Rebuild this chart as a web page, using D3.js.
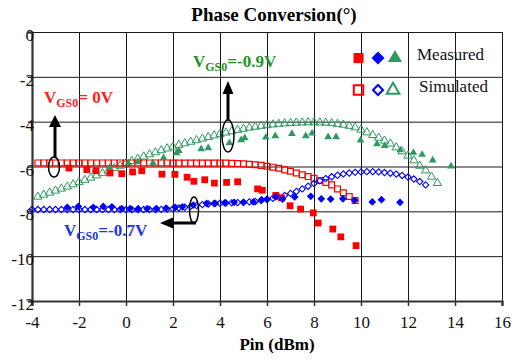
<!DOCTYPE html>
<html>
<head>
<meta charset="utf-8">
<style>
    body { margin: 0; background: #fff; }
</style>
</head>
<body>
<svg width="528" height="360"></svg>
<script src="https://d3js.org/d3.v7.min.js"></script>
<script>
    // ---- data ----
    var xTicks = [-4, -2, 0, 2, 4, 6, 8, 10, 12, 14, 16];
    var yTicks = [0, -2, -4, -6, -8, -10, -12];

    // simulated sweep (Pin, dBm)
    var pinSim = [-4, -3.75, -3.5, -3.25, -3, -2.75, -2.5, -2.25, -2, -1.75, -1.5, -1.25, -1, -0.75, -0.5, -0.25,
        0, 0.25, 0.5, 0.75, 1, 1.25, 1.5, 1.75, 2, 2.25, 2.5, 2.75, 3, 3.25, 3.5, 3.75, 4, 4.25, 4.5, 4.75,
        5, 5.25, 5.5, 5.75, 6, 6.25, 6.5, 6.75, 7, 7.25, 7.5, 7.75, 8, 8.25, 8.5, 8.75, 9, 9.25, 9.5, 9.75,
        10, 10.25, 10.5, 10.75, 11, 11.25, 11.5, 11.75, 12, 12.25, 12.5, 12.75, 13, 13.25];

    // VGS0 = 0V (red)
    var simRed = [null, -5.84, -5.84, -5.84, -5.84, -5.84, -5.84, -5.84, -5.84, -5.84, -5.84,
        -5.84, -5.84, -5.84, -5.84, -5.84, -5.84, -5.84, -5.84, -5.84, -5.84,
        -5.84, -5.84, -5.84, -5.85, -5.85, -5.85, -5.85, -5.85, -5.85, -5.85,
        -5.85, -5.85, -5.85, -5.86,
        -5.87, -5.88, -5.9, -5.92, -5.95, -5.99, -6.03, -6.08, -6.15, -6.21,
        -6.29, -6.37, -6.45, -6.53, -6.62, -6.71, -6.82, -7.0, -7.17, -7.34, -7.52,
        null, null, null, null, null, null, null, null, null, null, null, null, null, null];

    // VGS0 = -0.7V (blue)
    var simBlue = [-7.92, -7.92, -7.92, -7.92, -7.92, -7.92, -7.92, -7.92, -7.92, -7.92,
        -7.92, -7.92, -7.92, -7.92, -7.92, -7.92, -7.92, -7.92, -7.92, -7.92,
        -7.92, -7.92, -7.91,
        -7.9, -7.88, -7.85, -7.82, -7.78, -7.74, -7.7, -7.67, -7.65, -7.64,
        -7.63, -7.62, -7.61, -7.6, -7.58, -7.56, -7.52, -7.47, -7.42, -7.36,
        -7.29, -7.2, -7.11, -7.0, -6.88, -6.76, -6.64, -6.54, -6.46, -6.39,
        -6.33, -6.29, -6.26, -6.24, -6.23, -6.23, -6.24, -6.27, -6.3, -6.34,
        -6.4, -6.47, -6.56, -6.67, -6.82,
        null, null];

    // VGS0 = -0.9V (green)
    var simGreen = [null,
        -7.35, -7.26, -7.17, -7.08, -6.99, -6.9, -6.8, -6.7, -6.6, -6.5,
        -6.4, -6.3, -6.19, -6.08, -5.97, -5.86, -5.76, -5.66, -5.56, -5.46,
        -5.37, -5.28, -5.2, -5.12, -5.04, -4.97, -4.9, -4.83, -4.76, -4.69,
        -4.62, -4.55, -4.49, -4.43, -4.37, -4.32, -4.27, -4.23, -4.19, -4.16,
        -4.13, -4.1, -4.08, -4.06, -4.05, -4.04, -4.03, -4.03, -4.04, -4.05,
        -4.07, -4.1, -4.14, -4.19, -4.26, -4.36, -4.48, -4.6, -4.72, -4.85,
        -4.98, -5.15, -5.33, -5.52, -5.73, -5.97, -6.18, -6.46, -6.74];

    // measured points
    var measRedPin = [-2.43, -1.67, -1.28, -0.68, -0.18, 0.28, 0.67, 1.53, 2.08, 2.6, 2.89, 3.35, 3.76,
        4.28, 4.75, 5.6, 5.8, 6.37, 6.62, 6.98, 7.43, 7.97, 8.18, 8.8, 9.14, 9.79];
    var measRed = [-6.07, -6.14, -6.19, -6.29, -6.32, -6.24, -6.19, -6.34, -6.35, -6.48, -6.66, -6.59, -6.74,
        -6.71, -6.68, -7.0, -7.06, -7.29, -7.4, -7.75, -7.9, -8.07, -8.52, -8.79, -9.14, -9.53];

    var measBluePin = [-2.5, -2.03, -1.39, -0.97, -0.6, -0.18, 0.17, 0.52, 0.9, 1.3, 1.7, 2.1, 2.4, 2.86,
        3.43, 3.8, 4.2, 4.6, 5.0, 5.42, 5.77, 6.0, 6.37, 6.66, 7.18, 7.86, 8.31, 8.71, 9.23, 9.73, 10.48, 10.87, 11.66];
    var measBlue = [-7.82, -7.78, -7.82, -7.78, -7.8, -7.88, -7.88, -7.88, -7.88, -7.88, -7.86, -7.82, -7.8, -7.72,
        -7.65, -7.64, -7.62, -7.6, -7.6, -7.58, -7.48, -7.46, -7.36, -7.45, -7.36, -7.33, -7.44, -7.45, -7.44, -7.51, -7.58, -7.48, -7.6];

    var measGreenPin = [-1.3, -0.7, 0.1, 0.5, 1.15, 1.6, 2.15, 2.25, 3.2, 3.5, 4.4, 4.9, 5.05, 5.95, 6.35,
        7.06, 7.65, 7.92, 8.6, 8.94, 9.98, 10.68, 11.01, 11.67, 12.23, 12.6, 13.05, 13.83];
    var measGreen = [-6.15, -6.05, -5.85, -5.8, -5.85, -5.62, -5.4, -5.3, -5.22, -5.17, -4.95, -4.82, -4.73, -4.7, -4.64,
        -4.54, -4.64, -4.52, -4.68, -4.68, -4.83, -5.0, -5.07, -5.27, -5.38, -5.47, -5.72, -5.99];

    var red = "#ff0000", blue = "#0000ff", green = "#2e9960";
    var serif = "Liberation Serif, Times New Roman, serif";

    // ---- layout ----
    var svg = d3.select("svg").attr("font-family", serif),
        margin = {top: 32, right: 26, bottom: 59, left: 32},
        plotW = +svg.attr("width") - margin.left - margin.right,
        plotH = +svg.attr("height") - margin.top - margin.bottom,
        g = svg.append("g").attr("transform", "translate(" + margin.left + "," + margin.top + ")");

    var x = d3.scaleLinear().domain([-4, 16]).range([0, plotW]);
    var y = d3.scaleLinear().domain([-12, 0]).range([plotH, 0]);

    // grid = long inner ticks of the axes themselves
    var xGrid = g.append("g")
        .attr("transform", "translate(0," + plotH + ")")
        .call(d3.axisBottom(x).tickValues(xTicks).tickSizeInner(-plotH).tickSizeOuter(0).tickFormat(function () { return ""; }));
    var yGrid = g.append("g")
        .call(d3.axisLeft(y).tickValues(yTicks).tickSizeInner(-plotW).tickSizeOuter(0).tickFormat(function () { return ""; }));
    [xGrid, yGrid].forEach(function (a) {
        a.selectAll(".tick line").attr("stroke", "#1a1a1a").attr("stroke-width", 1);
        a.select(".domain").attr("stroke", "#1a1a1a");
    });

    // outer axes with labels
    var xAxis = g.append("g")
        .attr("transform", "translate(0," + plotH + ")")
        .call(d3.axisBottom(x).tickValues(xTicks).tickSize(5).tickPadding(10).tickFormat(function (d) { return String(d); }));
    var yAxis = g.append("g")
        .call(d3.axisLeft(y).tickValues(yTicks).tickSize(4).tickPadding(-6).tickFormat(function (d) { return String(d); }));
    [xAxis, yAxis].forEach(function (a) {
        a.attr("font-family", serif).attr("font-size", 17);
        a.select(".domain").attr("stroke", "#333").attr("stroke-width", 2.2);
        a.selectAll(".tick line").attr("stroke", "#333").attr("stroke-width", 1.5);
        a.selectAll("text").attr("fill", "#111").attr("font-family", serif);
    });
    yAxis.selectAll("text").attr("dy", "0.5em");

    // symbols
    function mark(type, size, rot) {
        var p = d3.symbol().type(type).size(size)();
        return {path: p, rot: rot || 0};
    }

    function drawSeries(pins, vals, sym, color, filled, sw) {
        var pts = pins.map(function (p, i) { return [p, vals[i]]; })
            .filter(function (d) { return d[1] !== null; });
        g.append("g").selectAll("path")
            .data(pts)
            .enter().append("path")
            .attr("d", sym.path)
            .attr("transform", function (d) {
                return "translate(" + x(d[0]) + "," + y(d[1]) + ") rotate(" + sym.rot + ")";
            })
            .attr("fill", filled ? color : "none")
            .attr("stroke", filled ? "none" : color)
            .attr("stroke-width", sw || 1.1);
    }

    drawSeries(pinSim, simGreen, mark(d3.symbolTriangle, 30), green, false, 1);
    drawSeries(pinSim, simRed, mark(d3.symbolSquare, 34), red, false, 1.2);
    drawSeries(pinSim, simBlue, mark(d3.symbolSquare, 20, 45), blue, false, 1.1);
    drawSeries(measGreenPin, measGreen, mark(d3.symbolTriangle, 26), green, true);
    drawSeries(measRedPin, measRed, mark(d3.symbolSquare, 46), red, true);
    drawSeries(measBluePin, measBlue, mark(d3.symbolSquare, 30, 45), blue, true);

    // title and axis title
    svg.append("text").attr("x", 274).attr("y", 21).attr("text-anchor", "middle")
        .attr("font-family", serif).attr("font-size", 19).attr("font-weight", "bold").text("Phase Conversion(°)");
    svg.append("text").attr("x", 277).attr("y", 350).attr("text-anchor", "middle")
        .attr("font-family", serif).attr("font-size", 17).attr("font-weight", "bold").text("Pin (dBm)");

    // legend
    var legend = svg.append("g");
    var legRows = [
        {label: "Measured", y: 58, filled: true},
        {label: "Simulated", y: 90, filled: false}
    ];
    legRows.forEach(function (r) {
        var items = [
            {sym: mark(d3.symbolSquare, r.filled ? 100 : 90), cx: 358.5, color: red},
            {sym: mark(d3.symbolSquare, r.filled ? 85 : 50, 45), cx: 378, color: blue},
            {sym: mark(d3.symbolTriangle, r.filled ? 85 : 70), cx: r.filled ? 395 : 393, color: green}
        ];
        items.forEach(function (it) {
            legend.append("path").attr("d", it.sym.path)
                .attr("transform", "translate(" + it.cx + "," + r.y + ") rotate(" + it.sym.rot + ")")
                .attr("fill", r.filled ? it.color : "none")
                .attr("stroke", r.filled ? "none" : it.color)
                .attr("stroke-width", 2);
        });
        legend.append("text").attr("x", r.filled ? 417 : 419).attr("y", r.y + 1.5)
            .attr("font-family", serif).attr("font-size", 17).attr("fill", "#111").text(r.label);
    });

    // annotations
    function vgs(xp, yp, rest, color) {
        var t = svg.append("text").attr("x", xp).attr("y", yp).attr("font-family", serif)
            .attr("font-size", 17).attr("font-weight", "bold").attr("fill", color);
        t.append("tspan").text("V");
        t.append("tspan").attr("font-size", 12).attr("dy", 4).text("GS0");
        t.append("tspan").attr("dy", -4).text(rest);
    }
    vgs(44, 103, "= 0V", "#ff2020");
    vgs(193, 67, "=-0.9V", "#1e9428");
    vgs(64, 236, "=-0.7V", "#2233ee");

    var ann = svg.append("g").attr("stroke", "#000").attr("fill", "none");
    // red: ellipse + up arrow
    ann.append("ellipse").attr("cx", 54).attr("cy", 167).attr("rx", 5.5).attr("ry", 10).attr("stroke-width", 1.5);
    ann.append("line").attr("x1", 55).attr("y1", 157).attr("x2", 55).attr("y2", 125).attr("stroke-width", 3);
    ann.append("path").attr("d", "M55,115 L61,127 L49,127 Z").attr("fill", "#000").attr("stroke", "none");
    // green: ellipse + up arrow
    ann.append("ellipse").attr("cx", 228).attr("cy", 136).attr("rx", 6).attr("ry", 16).attr("stroke-width", 1.5);
    ann.append("line").attr("x1", 228).attr("y1", 120).attr("x2", 228).attr("y2", 92).attr("stroke-width", 3);
    ann.append("path").attr("d", "M228,81 L233.5,94 L222.5,94 Z").attr("fill", "#000").attr("stroke", "none");
    // blue: ellipse + left arrow
    ann.append("ellipse").attr("cx", 194).attr("cy", 210).attr("rx", 4.5).attr("ry", 13).attr("stroke-width", 1.5);
    ann.append("line").attr("x1", 196).attr("y1", 223).attr("x2", 171).attr("y2", 223).attr("stroke-width", 3);
    ann.append("path").attr("d", "M160,223 L173,217.5 L173,228.5 Z").attr("fill", "#000").attr("stroke", "none");
</script>
</body>
</html>
